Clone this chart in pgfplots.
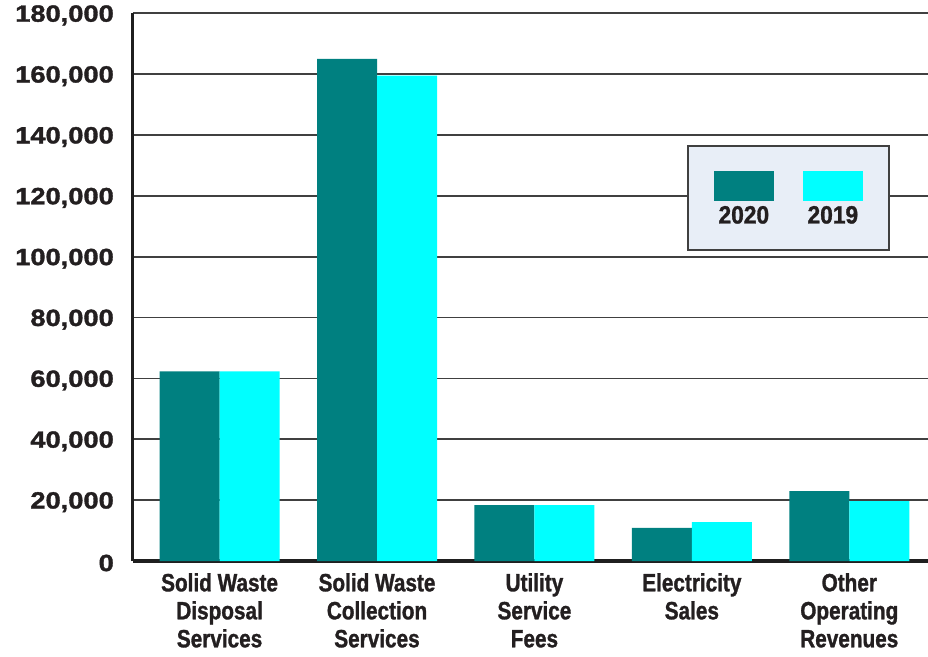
\documentclass[border=0pt]{standalone}
\usepackage{fontspec}
\setmainfont{Liberation Sans}
\newfontfamily\tickfont[FakeStretch=1.16, FakeBold=1.5]{Liberation Sans}
\newfontfamily\catfont[FakeStretch=0.83, FakeBold=1.2]{Liberation Sans}
\newfontfamily\legfont[FakeStretch=0.91, FakeBold=1.2]{Liberation Sans}
\usepackage{pgfplots}
\pgfplotsset{compat=1.18}
\definecolor{cA}{HTML}{008080}
\definecolor{cB}{HTML}{00FFFF}
\definecolor{txt}{HTML}{231F20}
\definecolor{legbg}{HTML}{E8EEF7}
\begin{document}
\begin{tikzpicture}
\useasboundingbox (-133pt,-95pt) rectangle (795pt,561pt);
\begin{axis}[
  at={(0,0)}, anchor=south west,
  width=795pt, height=547.7pt, scale only axis,
  ybar=0pt, bar width=60pt,
  xmin=-0.55, xmax=4.5,
  ymin=0, ymax=180000,
  ytick distance=20000,
  xtick=data,
  xticklabels={{Solid Waste\\Disposal\\Services},{Solid Waste\\Collection\\Services},{Utility\\Service\\Fees},{Electricity\\Sales},{Other\\Operating\\Revenues}},
  axis x line*=bottom, axis y line*=left,
  axis line style={-, black!88},
  x axis line style={line width=4pt},
  y axis line style={line width=3pt},
  major tick length=0pt,
  ymajorgrids, grid style={black!75, line width=1.6pt},
  scaled y ticks=false,
  yticklabel style={/pgf/number format/fixed, /pgf/number format/1000 sep={,}, /pgf/number format/assume math mode=true,
     font=\tickfont\bfseries\fontsize{23.5}{28}\selectfont, text=txt, inner sep=0pt, anchor=east, xshift=-19pt, yshift=-2pt},
  xticklabel style={align=center, font=\catfont\bfseries\fontsize{25}{28}\selectfont, text=txt, inner sep=0pt, anchor=north, yshift=-12pt},
  legend image code/.code={},
  legend columns=2,
  legend style={at={(axis description cs:0.697,0.759)}, anchor=north west,
     draw=black!75, line width=1.5pt, fill=legbg, inner xsep=26pt, inner ysep=25pt,
     font=\legfont\bfseries\fontsize{25}{30}\selectfont, text=txt,
     nodes={inner sep=0pt},
     /tikz/every odd column/.style={column sep=0pt},
     /tikz/every even column/.style={column sep=29pt}},
]
\addplot[fill=cA, draw=none] coordinates {(0,62300) (1,165000) (2,18400) (3,10850) (4,23000)};
\addlegendentry{\vbox{\offinterlineskip\hbox{\textcolor{cA}{\rule{60pt}{30pt}}}\kern5pt\hbox to 60pt{\hss 2020\hss}}}
\addplot[fill=cB, draw=none] coordinates {(0,62300) (1,159500) (2,18400) (3,12800) (4,19700)};
\addlegendentry{\vbox{\offinterlineskip\hbox{\textcolor{cB}{\rule{60pt}{30pt}}}\kern5pt\hbox to 60pt{\hss 2019\hss}}}
\end{axis}
\end{tikzpicture}
\end{document}
